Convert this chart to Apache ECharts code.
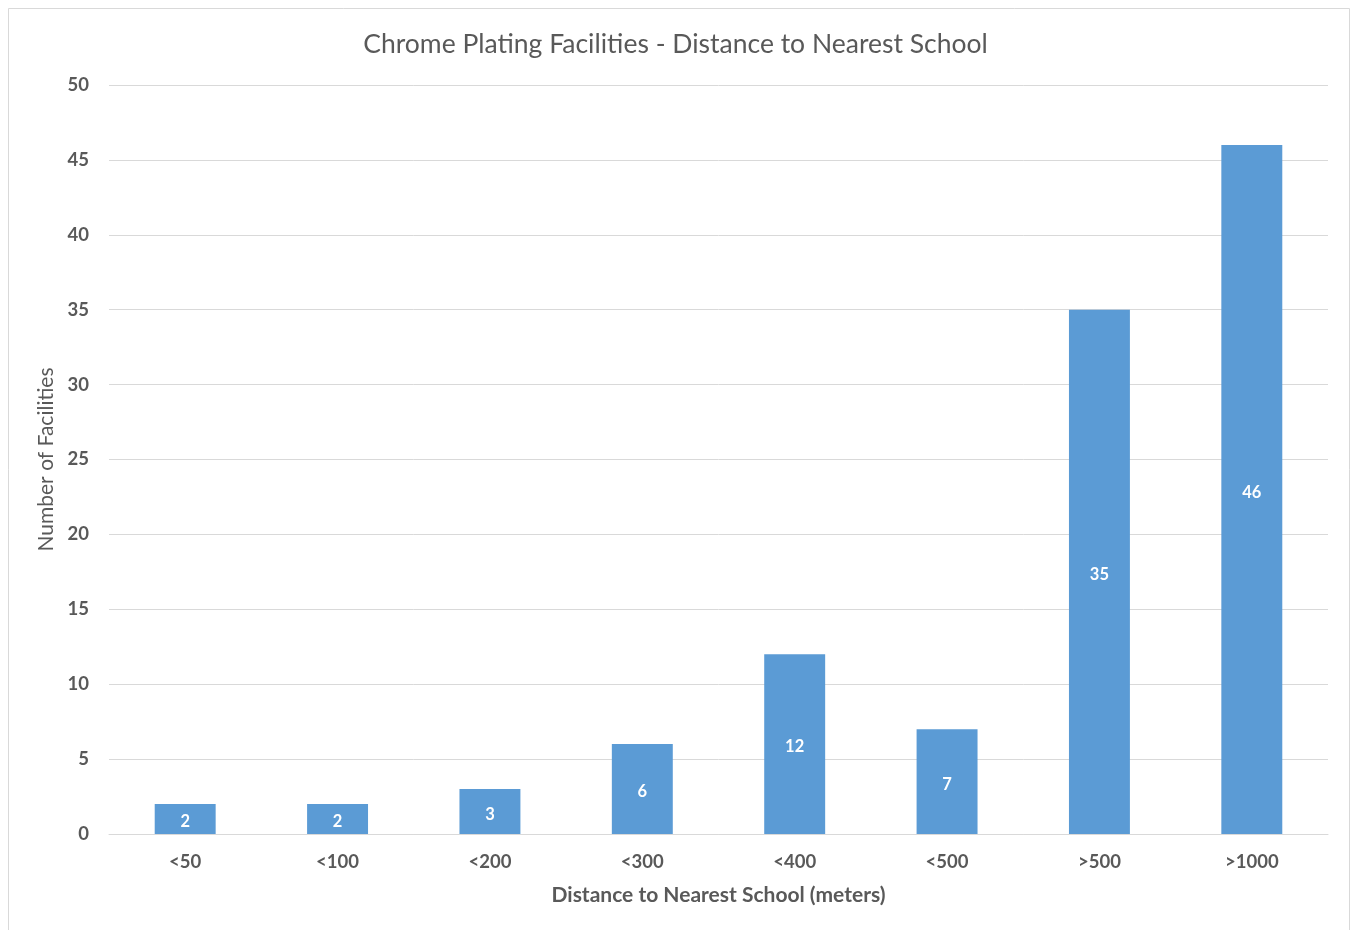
<!DOCTYPE html>
<html>
<head>
<meta charset="utf-8">
<script src="https://cdn.jsdelivr.net/npm/echarts@6/dist/echarts.min.js"></script>
<style>
html,body{margin:0;padding:0;background:#fff;}
#chart{width:1351px;height:930px;}
</style>
</head>
<body>
<div id="chart"></div>
<script>
const categories = ['<50', '<100', '<200', '<300', '<400', '<500', '>500', '>1000'];
const facilities = [2, 2, 3, 6, 12, 7, 35, 46];
const yTicks = { min: 0, max: 50, interval: 5 };

const chart = echarts.init(document.getElementById('chart'));
const font = 'Lato, "Open Sans", sans-serif';
chart.setOption({
  backgroundColor: '#ffffff',
  animation: false,
  graphic: [{
    type: 'rect',
    shape: { x: 8.5, y: 8.5, width: 1341, height: 1000 },
    style: { fill: 'none', stroke: '#d9d9d9', lineWidth: 1 },
    silent: true
  }],
  title: {
    text: 'Chrome Plating Facilities - Distance to Nearest School',
    left: 'center',
    top: 26,
    textStyle: { fontFamily: font, fontSize: 26.5, fontWeight: 'normal', color: '#595959' }
  },
  grid: { left: 109, right: 23, top: 85, bottom: 96 },
  xAxis: {
    type: 'category',
    data: categories,
    name: 'Distance to Nearest School (meters)',
    nameLocation: 'middle',
    nameGap: 51,
    nameTextStyle: { fontFamily: font, fontSize: 21, fontWeight: 'bold', color: '#595959' },
    axisLine: { lineStyle: { color: '#d9d9d9', width: 1 } },
    axisTick: { show: false },
    axisLabel: { fontFamily: font, fontSize: 18.5, fontWeight: 'bold', color: '#595959', margin: 19 },
  },
  yAxis: {
    type: 'value',
    min: yTicks.min,
    max: yTicks.max,
    interval: yTicks.interval,
    name: 'Number of Facilities',
    nameLocation: 'middle',
    nameGap: 49,
    nameTextStyle: { fontFamily: font, fontSize: 21, color: '#595959' },
    axisLine: { show: false },
    axisTick: { show: false },
    axisLabel: { fontFamily: font, fontSize: 18.5, fontWeight: 'bold', color: '#595959', margin: 20 },
    splitLine: { lineStyle: { color: '#d9d9d9', width: 1 } }
  },
  series: [{
    type: 'bar',
    data: facilities,
    barWidth: '40%',
    itemStyle: { color: '#5b9bd5' },
    label: {
      show: true,
      position: 'inside',
      offset: [0, 3],
      fontFamily: font,
      fontSize: 16.5,
      fontWeight: 'bold',
      color: '#ffffff'
    }
  }]
});
</script>
</body>
</html>
